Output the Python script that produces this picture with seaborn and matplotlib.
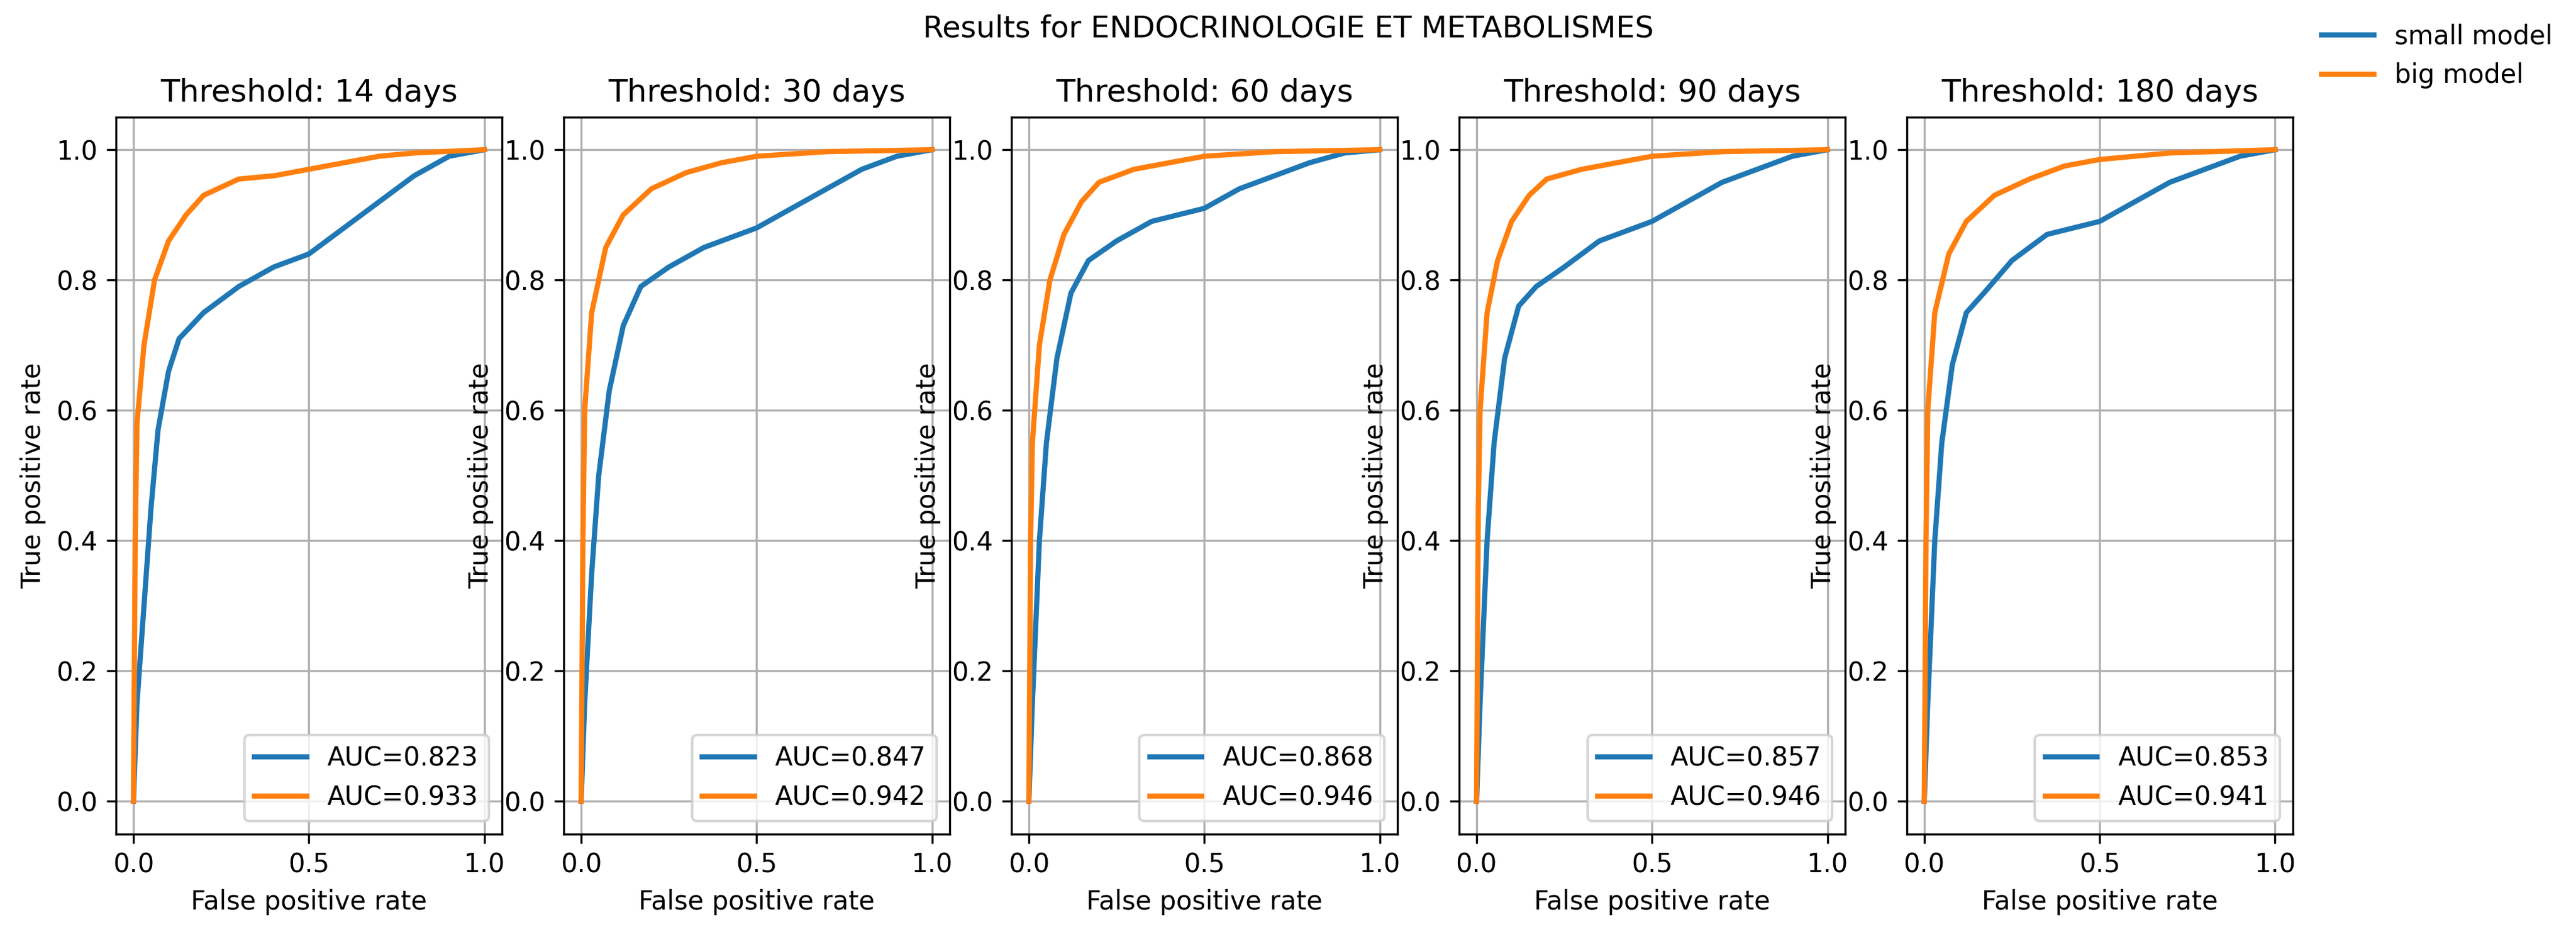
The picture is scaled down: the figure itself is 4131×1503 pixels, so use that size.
import matplotlib
matplotlib.use("Agg")
import matplotlib.pyplot as plt
import seaborn as sns
import pandas as pd

thresholds = [14, 30, 60, 90, 180]
auc_small = [0.823, 0.847, 0.868, 0.857, 0.853]
auc_big = [0.933, 0.942, 0.946, 0.946, 0.941]

# ROC points (fpr, tpr)
small_fpr = [
    [0, 0.01, 0.03, 0.05, 0.07, 0.1, 0.13, 0.2, 0.3, 0.4, 0.5, 0.6, 0.7, 0.8, 0.9, 1],
    [0, 0.01, 0.03, 0.05, 0.08, 0.12, 0.17, 0.25, 0.35, 0.5, 0.6, 0.7, 0.8, 0.9, 1],
    [0, 0.01, 0.03, 0.05, 0.08, 0.12, 0.17, 0.25, 0.35, 0.5, 0.6, 0.7, 0.8, 0.9, 1],
    [0, 0.01, 0.03, 0.05, 0.08, 0.12, 0.17, 0.25, 0.35, 0.5, 0.6, 0.7, 0.8, 0.9, 1],
    [0, 0.01, 0.03, 0.05, 0.08, 0.12, 0.17, 0.25, 0.35, 0.5, 0.6, 0.7, 0.8, 0.9, 1],
]
small_tpr = [
    [0, 0.15, 0.3, 0.45, 0.57, 0.66, 0.71, 0.75, 0.79, 0.82, 0.84, 0.88, 0.92, 0.96, 0.99, 1],
    [0, 0.15, 0.35, 0.5, 0.63, 0.73, 0.79, 0.82, 0.85, 0.88, 0.91, 0.94, 0.97, 0.99, 1],
    [0, 0.15, 0.4, 0.55, 0.68, 0.78, 0.83, 0.86, 0.89, 0.91, 0.94, 0.96, 0.98, 0.995, 1],
    [0, 0.15, 0.4, 0.55, 0.68, 0.76, 0.79, 0.82, 0.86, 0.89, 0.92, 0.95, 0.97, 0.99, 1],
    [0, 0.15, 0.4, 0.55, 0.67, 0.75, 0.78, 0.83, 0.87, 0.89, 0.92, 0.95, 0.97, 0.99, 1],
]
big_fpr = [
    [0, 0.005, 0.01, 0.03, 0.06, 0.1, 0.15, 0.2, 0.3, 0.4, 0.5, 0.6, 0.7, 0.8, 1],
    [0, 0.005, 0.01, 0.03, 0.07, 0.12, 0.2, 0.3, 0.4, 0.5, 0.7, 1],
    [0, 0.005, 0.01, 0.03, 0.06, 0.1, 0.15, 0.2, 0.3, 0.5, 0.7, 1],
    [0, 0.005, 0.01, 0.03, 0.06, 0.1, 0.15, 0.2, 0.3, 0.5, 0.7, 1],
    [0, 0.005, 0.01, 0.03, 0.07, 0.12, 0.2, 0.3, 0.4, 0.5, 0.7, 1],
]
big_tpr = [
    [0, 0.4, 0.58, 0.7, 0.8, 0.86, 0.9, 0.93, 0.955, 0.96, 0.97, 0.98, 0.99, 0.995, 1],
    [0, 0.4, 0.6, 0.75, 0.85, 0.9, 0.94, 0.965, 0.98, 0.99, 0.997, 1],
    [0, 0.4, 0.55, 0.7, 0.8, 0.87, 0.92, 0.95, 0.97, 0.99, 0.997, 1],
    [0, 0.45, 0.6, 0.75, 0.83, 0.89, 0.93, 0.955, 0.97, 0.99, 0.997, 1],
    [0, 0.4, 0.6, 0.75, 0.84, 0.89, 0.93, 0.955, 0.975, 0.985, 0.995, 1],
]

fig, axes = plt.subplots(1, 5, figsize=(13.77, 5.01), dpi=300)
for i, ax in enumerate(axes):
    ds = pd.DataFrame({"fpr": small_fpr[i], "tpr": small_tpr[i]})
    db = pd.DataFrame({"fpr": big_fpr[i], "tpr": big_tpr[i]})
    sns.lineplot(data=ds, x="fpr", y="tpr", ax=ax, color="#1f77b4", lw=2,
                 estimator=None, sort=False, label=f"AUC={auc_small[i]:.3f}")
    sns.lineplot(data=db, x="fpr", y="tpr", ax=ax, color="#ff7f0e", lw=2,
                 estimator=None, sort=False, label=f"AUC={auc_big[i]:.3f}")
    ax.set_title(f"Threshold: {thresholds[i]} days", fontsize=12)
    ax.set_xlabel("False positive rate")
    ax.set_ylabel("True positive rate")
    ax.set_xticks([0, 0.5, 1.0])
    ax.set_xticklabels(["0.0", "0.5", "1.0"])
    ax.grid(True)
    ax.legend(loc="lower right")

fig.suptitle("Results for ENDOCRINOLOGIE ET METABOLISMES", fontsize=11.5, y=0.985)
handles = axes[0].get_lines()[:2]
fig.legend(handles, ["small model", "big model"], loc="upper right",
           bbox_to_anchor=(1.0, 1.0), frameon=False)
plt.subplots_adjust(left=0.045, right=0.89, top=0.875, bottom=0.11, wspace=0.16)
plt.savefig("out.png", dpi=300)
